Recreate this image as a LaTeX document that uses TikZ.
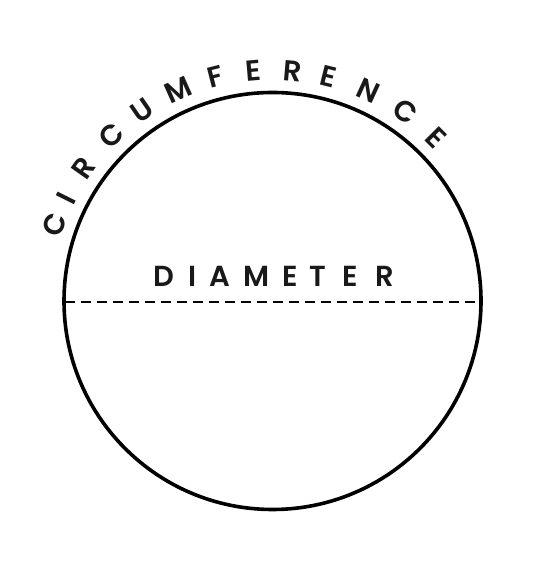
\documentclass[tikz,border=0pt]{standalone}
\usepackage{fontspec}
\setmainfont{Poppins}[BoldFont={Poppins SemiBold}]
\usetikzlibrary{calc}
\begin{document}
\begin{tikzpicture}[x=1pt,y=1pt,
  rim/.style={line width=3.6pt},
  diam/.style={line width=1.8pt, dash pattern=on 10pt off 6pt},
  lbl/.style={inner sep=0pt, font=\fontsize{29}{29}\selectfont\bfseries, text=black!90}]
\useasboundingbox (0,0) rectangle (538,564);
\coordinate (O) at (272.5,263);
\draw[rim] (O) circle[radius=208.5];
\coordinate (L) at (64.5,262);
\coordinate (R) at (480.5,262);
\draw[diam] (L) -- (R);
\foreach \l/\x [count=\i] in {D/164,I/192.5,A/219.5,M/256.5,E/290,T/317.5,E/350,R/385}
  \node[lbl, anchor=base] (d\i) at (\x,277) {\l};
\foreach \l/\a [count=\i] in {C/160.7,I/153.5,R/144.8,C/134.1,U/124.5,M/114,F/104.3,E/94.8,R/85.1,E/76,N/65.4,C/55,E/45}
  \node[lbl, rotate=\a-90] (c\i) at ($(O)+(\a:231)$) {\l};
\end{tikzpicture}
\end{document}
